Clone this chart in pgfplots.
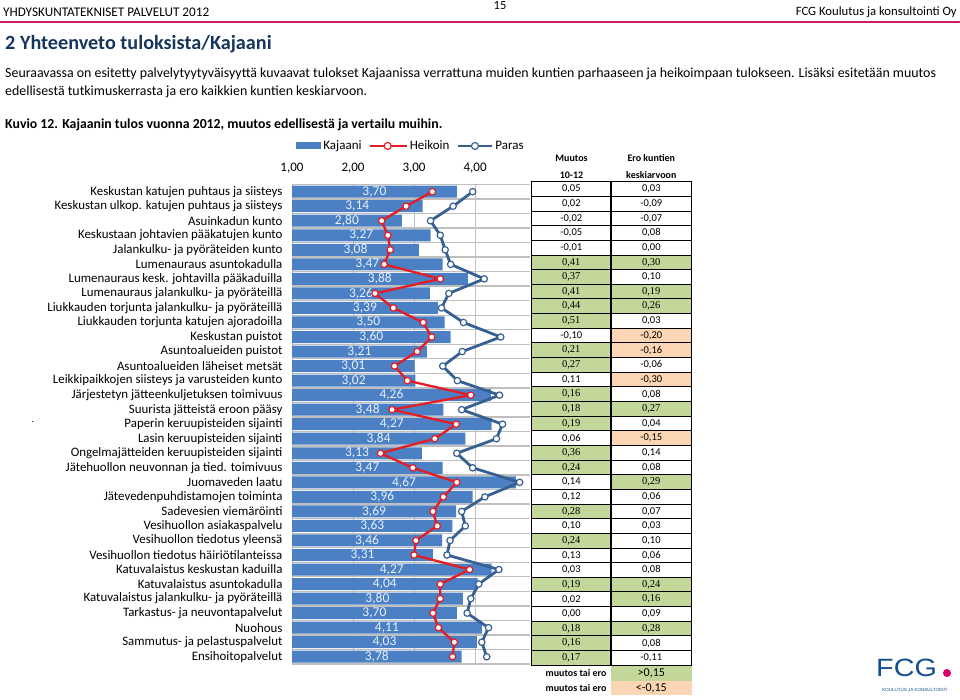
\documentclass[border=0pt]{standalone}
\usepackage{fontspec}
\setmainfont{Carlito}
\newfontfamily\serifnum{Liberation Serif}
\newfontfamily\logofont{Liberation Sans}
\usepackage{pgfplots}
\usepackage{pgfplotstable}
\pgfplotsset{compat=1.18}

\definecolor{kaj}{RGB}{76,128,196}
\definecolor{heik}{RGB}{228,28,36}
\definecolor{paras}{RGB}{55,96,146}
\definecolor{labelc}{RGB}{232,240,250}
\definecolor{cellg}{RGB}{196,215,155}
\definecolor{cello}{RGB}{252,213,180}
\definecolor{cellw}{RGB}{255,255,255}
\definecolor{titleblue}{RGB}{23,54,93}
\definecolor{pinkrule}{RGB}{200,30,110}
\definecolor{fcgblue}{RGB}{20,80,145}
\definecolor{fcgpink}{RGB}{220,0,110}

% r = rivi, k = Kajaani, h = heikoin, p = paras
\pgfplotstableread{
r k h p
0 3.70 3.30 3.96
1 3.14 2.87 3.64
2 2.80 2.47 3.27
3 3.27 2.57 3.43
4 3.08 2.61 3.51
5 3.47 2.51 3.60
6 3.88 3.43 4.15
7 3.26 2.36 3.57
8 3.39 2.66 3.45
9 3.50 3.15 3.81
10 3.60 3.29 4.42
11 3.21 3.05 3.79
12 3.01 2.68 3.47
13 3.02 2.89 3.71
14 4.26 3.93 4.40
15 3.48 2.64 3.78
16 4.27 3.69 4.45
17 3.84 3.34 4.35
18 3.13 2.45 3.70
19 3.47 2.98 3.96
20 4.67 3.70 4.73
21 3.96 3.48 4.16
22 3.69 3.31 3.78
23 3.63 3.38 3.84
24 3.46 3.03 3.59
25 3.31 3.00 3.54
26 4.27 3.91 4.39
27 4.04 3.43 4.06
28 3.80 3.43 3.93
29 3.70 3.31 3.87
30 4.11 3.40 4.22
31 4.03 3.66 4.11
32 3.78 3.63 4.19
}\kdata

\def\fg{\serifnum}
\def\fw{}
\def\fo{}

\begin{document}
\begin{tikzpicture}
\useasboundingbox (0,0) rectangle (960pt,-699pt);

\begin{scope}[x=1pt,y=-1pt]
% ylatunniste
\node[anchor=west,inner sep=0,font=\fontsize{13.2}{15}\selectfont] at (3,12) {YHDYSKUNTATEKNISET PALVELUT 2012};
\node[inner sep=0,font=\fontsize{12.5}{14}\selectfont] at (500,6) {15};
\node[anchor=east,inner sep=0,font=\fontsize{12.7}{15}\selectfont] at (957,12) {FCG Koulutus ja konsultointi Oy};
\fill[pinkrule] (0,21) rectangle (960,23);

\node[anchor=west,inner sep=0,text=titleblue,font=\bfseries\fontsize{20.2}{22}\selectfont] at (5,44) {2 Yhteenveto tuloksista/Kajaani};
\node[anchor=west,inner sep=0,font=\fontsize{13.9}{16}\selectfont] at (5,74) {Seuraavassa on esitetty palvelytyytyväisyyttä kuvaavat tulokset Kajaanissa verrattuna muiden kuntien parhaaseen ja heikoimpaan tulokseen. Lisäksi esitetään muutos};
\node[anchor=west,inner sep=0,font=\fontsize{13.9}{16}\selectfont] at (5,92) {edellisestä tutkimuskerrasta ja ero kaikkien kuntien keskiarvoon.};
\node[anchor=west,inner sep=0,font=\bfseries\fontsize{13.8}{16}\selectfont] at (5,125) {Kuvio 12. Kajaanin tulos vuonna 2012, muutos edellisestä ja vertailu muihin.};
\node[inner sep=0] at (33,422) {.};

% taulukko
\node[font=\bfseries\fontsize{10}{12}\selectfont] at (571.5,158) {Muutos};
\node[font=\bfseries\fontsize{10}{12}\selectfont] at (571.5,175) {10-12};
\node[font=\bfseries\fontsize{10}{12}\selectfont] at (651.3,158) {Ero kuntien};
\node[font=\bfseries\fontsize{10}{12}\selectfont] at (651.3,175) {keskiarvoon};

\foreach \m/\e/\cm/\ce [count=\i from 0] in {
 0.05/0.03/w/w, 0.02/-0.09/w/w, -0.02/-0.07/w/w, -0.05/0.08/w/w, -0.01/0.00/w/w,
 0.41/0.30/g/g, 0.37/0.10/g/w, 0.41/0.19/g/g, 0.44/0.26/g/g, 0.51/0.03/g/w,
 -0.10/-0.20/w/o, 0.21/-0.16/g/o, 0.27/-0.06/g/w, 0.11/-0.30/w/o, 0.16/0.08/g/w,
 0.18/0.27/g/g, 0.19/0.04/g/w, 0.06/-0.15/w/o, 0.36/0.14/g/w, 0.24/0.08/g/w,
 0.14/0.29/w/g, 0.12/0.06/w/w, 0.28/0.07/g/w, 0.10/0.03/w/w, 0.24/0.10/g/w,
 0.13/0.06/w/w, 0.03/0.08/w/w, 0.19/0.24/g/g, 0.02/0.16/w/g, 0.00/0.09/w/w,
 0.18/0.28/g/g, 0.16/0.08/g/w, 0.17/-0.11/g/w}{
  \pgfmathsetmacro\yt{181.7+\i*14.65}
  \fill[cell\cm] (531.7,\yt) rectangle (611,\yt+14.65);
  \fill[cell\ce] (611,\yt) rectangle (691.7,\yt+14.65);
  \node[font=\csname f\cm\endcsname\fontsize{10.5}{12}\selectfont] at (571.3,\yt+7.4)
    {\pgfmathprintnumber[fixed,fixed zerofill,precision=2,use comma,assume math mode=true]{\m}};
  \node[font=\csname f\ce\endcsname\fontsize{10.5}{12}\selectfont] at (651.3,\yt+7.4)
    {\pgfmathprintnumber[fixed,fixed zerofill,precision=2,use comma,assume math mode=true]{\e}};
  \draw[line width=0.9pt] (531.7,\yt) -- (691.7,\yt);
}
\draw[line width=1.3pt] (531.7,181.7) rectangle (691.7,665.15);
\draw[line width=1.3pt] (611,181.7) -- (611,665.15);

\fill[cellg] (611,666) rectangle (691.7,680.5);
\fill[cello] (611,680.5) rectangle (691.7,695);
\node[anchor=east,font=\bfseries\fontsize{10}{12}\selectfont] at (610,673.2) {muutos tai ero};
\node[anchor=east,font=\bfseries\fontsize{10}{12}\selectfont] at (610,688) {muutos tai ero};
\node[font=\fontsize{12}{14}\selectfont] at (651.3,673.2) {>0,15};
\node[font=\fontsize{12}{14}\selectfont] at (651.3,688) {<-0,15};

% logo
\node[anchor=west,inner sep=0,xscale=1.15,text=fcgblue,font=\logofont\fontsize{25}{25}\selectfont] at (876,668) {FCG};
\fill[fcgpink] (947,673) circle (4);
\node[inner sep=0,text=fcgblue,font=\logofont\fontsize{4.5}{5}\selectfont] at (915,690) {KOULUTUS JA KONSULTOINTI};
\end{scope}

\begin{axis}[
  at={(292pt,-184.4pt)}, anchor=north west,
  scale only axis, width=238pt, height=479.6pt,
  xmin=1, xmax=4.9, ymin=-0.5, ymax=32.5, y dir=reverse,
  axis line style={draw=none},
  major tick length=0pt, minor tick length=0pt,
  xtick={1,2,3,4}, xticklabel pos=top,
  xticklabel style={font=\fontsize{13}{15}\selectfont, yshift=8pt},
  xmajorgrids,
  major grid style={gray!50, line width=0.8pt},
  ytick={0,...,32},
  yticklabels={
    Keskustan katujen puhtaus ja siisteys,
    Keskustan ulkop. katujen puhtaus ja siisteys,
    Asuinkadun kunto,
    Keskustaan johtavien pääkatujen kunto,
    Jalankulku- ja pyöräteiden kunto,
    Lumenauraus asuntokadulla,
    Lumenauraus kesk. johtavilla pääkaduilla,
    Lumenauraus jalankulku- ja pyöräteillä,
    Liukkauden torjunta jalankulku- ja pyöräteillä,
    Liukkauden torjunta katujen ajoradoilla,
    Keskustan puistot,
    Asuntoalueiden puistot,
    Asuntoalueiden läheiset metsät,
    Leikkipaikkojen siisteys ja varusteiden kunto,
    Järjestetyn jätteenkuljetuksen toimivuus,
    Suurista jätteistä eroon pääsy,
    Paperin keruupisteiden sijainti,
    Lasin keruupisteiden sijainti,
    Ongelmajätteiden keruupisteiden sijainti,
    Jätehuollon neuvonnan ja tied. toimivuus,
    Juomaveden laatu,
    Jätevedenpuhdistamojen toiminta,
    Sadevesien viemäröinti,
    Vesihuollon asiakaspalvelu,
    Vesihuollon tiedotus yleensä,
    Vesihuollon tiedotus häiriötilanteissa,
    Katuvalaistus keskustan kaduilla,
    Katuvalaistus asuntokadulla,
    Katuvalaistus jalankulku- ja pyöräteillä,
    Tarkastus- ja neuvontapalvelut,
    Nuohous,
    Sammutus- ja pelastuspalvelut,
    Ensihoitopalvelut},
  yticklabel style={font=\fontsize{12.9}{14}\selectfont, xshift=-6pt},
  minor ytick={-0.5,0.5,...,32.5}, yminorgrids,
  minor grid style={gray!50, line width=1.3pt},
  legend style={at={(0.5,1)}, anchor=south, yshift=31pt, draw=none, fill=none,
    font=\fontsize{13}{15}\selectfont, inner sep=0pt,
    /tikz/every even column/.append style={column sep=5pt}},
  legend columns=3,
  /pgf/number format/.cd, fixed, fixed zerofill, precision=2, use comma, assume math mode=true
]
\addplot[xbar, bar width=12pt, bar shift=0pt, fill=kaj, draw=none,
  legend image code/.code={\fill[kaj] (0pt,-3.5pt) rectangle (25pt,3.5pt);}]
  table[x=k, y=r] {\kdata};
\addplot[draw=none, forget plot, nodes near coords, point meta=\thisrow{k},
  nodes near coords style={anchor=center, text=labelc, font=\fontsize{13.5}{15}\selectfont}]
  table[x expr={(\thisrow{k}+1)/2}, y=r] {\kdata};
\addplot[heik, line width=2.3pt, mark=*, mark size=3.2pt,
  mark options={fill=white, draw=heik, line width=1.2pt},
  legend image code/.code={\draw[heik,line width=2.3pt] (0pt,0pt) -- (37pt,0pt);
    \draw[heik,fill=white,line width=1.2pt] (18pt,0pt) circle (3.5pt);}]
  table[x=h, y=r] {\kdata};
\addplot[paras, line width=2.8pt, mark=*, mark size=3.2pt,
  mark options={fill=white, draw=paras, line width=1.2pt},
  legend image code/.code={\draw[paras,line width=2.8pt] (0pt,0pt) -- (34pt,0pt);
    \draw[paras,fill=white,line width=1.2pt] (17pt,0pt) circle (3.5pt);}]
  table[x=p, y=r] {\kdata};
\legend{Kajaani, Heikoin, Paras}
\end{axis}
\end{tikzpicture}
\end{document}
